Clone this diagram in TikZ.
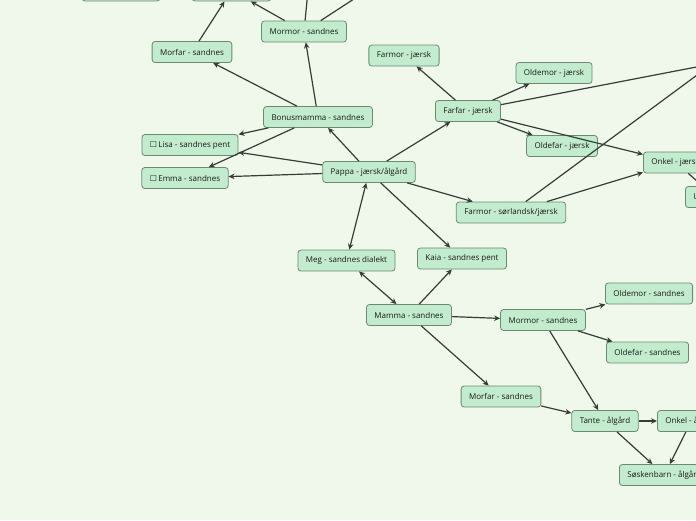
\documentclass[tikz,border=0pt]{standalone}
\usepackage{fontspec}
\setmainfont{Open Sans}
\newfontfamily\symf{DejaVu Sans}
\usetikzlibrary{arrows.meta}
\definecolor{bgc}{RGB}{240,248,236}
\definecolor{boxc}{RGB}{194,236,205}
\definecolor{rimc}{RGB}{108,138,114}
\definecolor{linec}{RGB}{52,62,54}
\tikzset{
  fam/.style={rectangle, draw=rimc, fill=boxc, rounded corners=3pt,
              line width=0.8pt, minimum height=21pt,
              inner xsep=8pt, inner ysep=0pt, text=black!90,
              font=\fontsize{8}{9.5}\selectfont},
  arr/.style={-{Stealth[length=6pt,width=5.5pt]}, line width=1.2pt, draw=linec},
  biarr/.style={{Stealth[length=6pt,width=5.5pt]}-{Stealth[length=6pt,width=5.5pt]},
                line width=1.2pt, draw=linec},
}
\newcommand{\chk}{{\symf\char"2610}\,}

\begin{document}
\begin{tikzpicture}[x=1pt, y=-1pt]
  \useasboundingbox (0,0) rectangle (696,520);
  \clip (0,0) rectangle (696,520);
  \fill[bgc] (0,0) rectangle (696,520);

  \node[fam, minimum width=78pt] (topa) at (121,-9.5) {};
  \node[fam, minimum width=79pt] (topb) at (231.5,-9.5) {};
  \node[fam] (mormorb)  at (304,31.5)  {Mormor - sandnes};
  \node[fam] (morfarb)  at (192,52)    {Morfar - sandnes};
  \node[fam] (bonus)    at (318,117)   {Bonusmamma - sandnes};
  \node[fam] (lisa)     at (190,145)   {\chk Lisa - sandnes pent};
  \node[fam] (emma)     at (185,178)   {\chk Emma - sandnes};
  \node[fam] (pappa)    at (369,172)   {Pappa - jærsk/ålgård};
  \node[fam] (farmorj)  at (404,55.5)  {Farmor - jærsk};
  \node[fam] (oldemorj) at (554,73)    {Oldemor - jærsk};
  \node[fam] (farfar)   at (468,111)   {Farfar - jærsk};
  \node[fam] (oldefarj) at (562,146)   {Oldefar - jærsk};
  \node[fam, anchor=west] (onkelj) at (643,162.5) {Onkel - jærsk};
  \node[fam, anchor=west, text width=44pt, align=left] (ukj) at (685,197) {U};
  \node[fam] (farmors)  at (511,212.5) {Farmor - sørlandsk/jærsk};
  \node[fam] (meg)      at (346.5,260.5) {Meg - sandnes dialekt};
  \node[fam] (kaia)     at (462,258.5) {Kaia - sandnes pent};
  \node[fam] (mamma)    at (409,315)   {Mamma - sandnes};
  \node[fam] (mormorm)  at (543,320)   {Mormor - sandnes};
  \node[fam] (oldemors) at (649,293.5) {Oldemor - sandnes};
  \node[fam] (oldefars) at (647.5,352.5) {Oldefar - sandnes};
  \node[fam] (morfarm)  at (501,396.5) {Morfar - sandnes};
  \node[fam] (tante)    at (605,421)   {Tante - ålgård};
  \node[fam, anchor=west] (onkela) at (657,421) {Onkel - ålgård};
  \node[fam, anchor=west] (sosken) at (619,475) {Søskenbarn - ålgård};
  \coordinate (offn)  at (312,-50);
  \coordinate (offne) at (380,-18);
  \coordinate (offe)  at (712,64);

  \foreach \a/\b in {morfarb/topb, mormorb/topb, mormorb/offn, mormorb/offne,
                     bonus/morfarb, bonus/mormorb, bonus/lisa, bonus/emma,
                     pappa/bonus, pappa/lisa, pappa/emma, pappa/farfar,
                     pappa/farmors, pappa/kaia,
                     farfar/farmorj, farfar/oldemorj, farfar/oldefarj,
                     farfar/onkelj, farfar/offe,
                     farmors/onkelj, farmors/offe, onkelj/ukj,
                     mamma/kaia, mamma/mormorm, mamma/morfarm,
                     mormorm/oldemors, mormorm/oldefars, mormorm/tante,
                     morfarm/tante, tante/onkela, tante/sosken, onkela/sosken}
    \draw[arr] (\a) -- (\b);
  \draw[biarr] (pappa) -- (meg);
  \draw[biarr] (mamma) -- (meg);
\end{tikzpicture}
\end{document}
